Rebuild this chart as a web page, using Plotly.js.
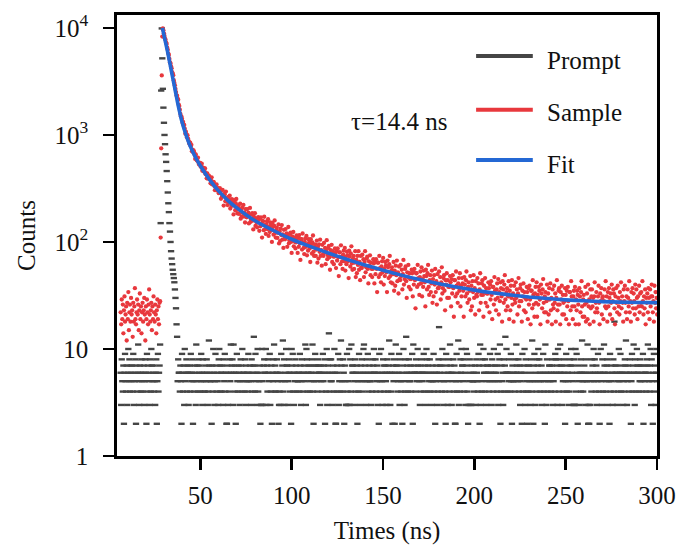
<!DOCTYPE html>
<html>
<head>
<meta charset="utf-8">
<script src="https://cdn.plot.ly/plotly-3.0.1.min.js"></script>
<style>html,body{margin:0;padding:0;background:#fff;}#chart{width:677px;height:547px;}</style>
</head>
<body>
<div id="chart"></div>
<script>
// ---- data ----
const channelStart = 6.4;   // ns, time of first channel
const channelWidth = 0.3;   // ns per channel

const promptCounts = [
6,3,8,5,4,7,2,6,9,5,4,7,3,6,10,5,8,4,7,6,
5,7,4,9,3,6,5,8,2,7,4,6,11,5,3,7,6,4,8,5,
4,6,7,3,5,8,6,2,9,4,7,5,6,3,8,4,10,7,5,6,
7,4,5,3,6,8,2,5,9,4,6,7,
11,150,2600,9900,5200,2700,1800,1300,1000,820,660,560,460,370,290,230,190,150,125,100,82,70,62,55,50,46,42,36,30,24,17,13,
5,8,6,6,4,7,5,2,9,6,4,7,3,10,5,6,8,4,7,6,
3,6,7,4,9,5,6,8,2,5,4,7,6,3,11,5,7,4,8,6,
7,4,5,9,6,3,8,5,4,6,4,7,5,8,6,3,4,12,7,5,
6,5,2,7,4,10,6,3,5,9,7,4,6,5,3,8,10,4,7,6,
4,7,6,3,8,5,9,4,6,2,2,7,3,6,4,8,5,11,6,7,
8,3,11,6,7,4,2,6,9,5,4,7,6,3,5,8,7,4,10,6,
5,6,4,8,3,7,5,6,4,9,5,6,7,5,3,8,4,6,7,13,
7,4,9,5,6,3,10,4,6,5,7,2,3,3,10,5,3,7,8,6,
6,10,3,7,4,8,6,5,9,3,4,7,2,6,5,8,11,4,7,6,
4,8,6,5,2,3,4,6,3,9,5,7,12,4,8,3,5,6,10,7,
7,3,5,6,8,4,6,2,10,7,9,4,3,6,5,8,7,4,6,5,
5,6,4,9,7,3,5,8,6,4,6,7,5,11,3,10,8,4,6,7,
6,4,7,5,6,8,11,4,2,5,7,9,6,7,5,4,8,7,6,6,
3,7,5,6,4,9,5,7,8,2,6,4,10,3,7,6,14,4,8,5,
8,5,6,3,7,4,10,6,2,2,4,7,6,9,3,5,8,4,12,7,
5,4,8,6,2,7,5,3,3,9,4,3,5,10,3,8,4,11,7,6,
7,6,3,5,8,4,6,7,2,5,4,9,6,3,7,5,8,4,6,10,
11,5,7,6,3,8,5,9,4,6,7,5,5,3,6,4,8,7,10,6,
6,8,4,5,7,3,6,2,9,5,4,10,6,5,3,8,7,4,6,7,
5,3,6,8,4,7,12,6,3,4,9,6,2,7,5,8,2,6,11,7,
7,4,5,6,9,3,8,5,4,6,2,7,10,5,3,4,8,13,6,7,
4,6,8,5,5,7,4,6,9,2,11,7,6,6,4,8,5,6,10,7,
6,5,3,7,4,8,6,5,6,9,4,6,7,3,10,8,4,7,6,5,
8,4,6,5,3,7,5,9,4,6,2,5,7,6,3,4,8,16,6,7,
5,7,4,10,8,3,5,6,4,2,9,7,5,3,6,8,4,11,7,6,
3,6,5,8,4,7,2,2,5,9,4,6,12,3,5,4,8,6,10,7,
7,5,8,4,6,3,10,7,9,4,2,3,5,8,3,6,3,7,5,5,
6,4,5,7,3,8,6,5,4,9,7,2,11,3,5,4,8,7,10,6,
4,8,6,3,5,7,7,6,4,5,9,6,7,3,8,5,4,10,6,7,
5,6,7,4,9,3,5,8,11,2,4,7,5,6,3,8,4,7,13,6,
10,6,4,6,5,8,6,4,9,5,2,7,5,6,5,4,8,6,11,7,
6,5,8,4,7,3,5,6,2,9,4,7,6,10,3,8,4,5,2,7,
4,7,5,6,3,8,4,12,5,2,7,9,5,3,6,4,8,7,10,5,
8,6,4,5,7,3,6,9,4,5,2,11,6,3,8,4,5,6,7,7,
5,4,6,7,8,3,5,6,4,9,8,6,7,3,10,8,4,6,11,7,
6,7,3,5,4,8,6,2,5,9,4,7,6,5,3,4,8,7,10,6,
7,5,3,8,3,3,10,4,9,6,2,7,5,3,6,8,4,6,12,5,
4,6,7,5,3,8,6,5,11,2,3,2,6,3,5,4,8,7,6,10,
5,8,6,4,7,3,5,9,6,4,2,6,10,5,3,8,4,6,11,7,
6,4,5,7,8,3,6,5,2,9,4,7,5,6,3,8,4,18,6,7,
7,6,3,5,4,10,5,6,9,4,6,7,6,3,5,4,8,7,12,6,
3,5,7,6,4,8,6,2,5,9,4,7,11,6,3,8,4,6,10,7,
6,7,4,5,8,7,5,6,4,9,2,7,6,5,6,4,8,7,11,6,
5,4,7,10,3,8,5,2,6,9,4,7,3,6,10,5
];

const sampleCounts = [
22,17,29,19,26,14,23,31,18,21,25,12,27,19,34,15,22,26,18,30,
21,23,13,27,18,25,37,19,17,22,29,21,26,15,23,33,19,25,14,22,
27,18,23,30,21,12,25,19,29,22,17,26,36,21,18,23,27,15,25,19,
31,22,18,26,21,14,23,29,19,25,17,27,
28,110,750,3600,8300,9900,9500,8900,
8425,7945,7750,7303,7085,6543,6248,5757,5587,5131,
4769,4659,4364,4192,3859,3737,3622,3245,3061,2908,
2695,2517,2343,2328,2190,2134,1919,1863,1721,1570,
1493,1482,1414,1300,1325,1228,1240,1146,1028,1072,
1018,950,996,925,881,834,853,845,783,808,
706,729,692,718,689,655,597,659,622,578,
598,615,553,530,549,549,505,515,538,464,
496,458,489,459,486,430,438,393,437,401,
390,417,387,395,353,376,402,345,350,364,
363,333,305,340,327,345,302,320,305,286,
296,319,303,253,303,266,306,270,219,281,
277,240,296,257,239,221,254,264,233,271,
205,238,217,251,238,220,181,246,226,198,
230,252,200,185,211,218,183,200,228,165,
202,172,210,187,222,173,188,152,203,173,
170,203,176,188,149,178,208,154,163,181,
186,158,131,172,162,186,141,166,153,137,
152,171,161,127,165,140,170,147,110,157,
156,129,172,144,132,119,146,156,132,163,
114,138,124,152,142,129,100,151,138,117,
142,159,121,110,128,136,109,122,146,97,
126,102,133,116,144,105,118,88,130,108,
106,132,111,120,90,113,138,97,104,119,
122,100,79,113,105,124,91,109,100,87,
99,115,107,79,111,90,116,97,68,106,
106,85,120,98,88,77,100,108,90,114,
75,95,83,106,99,87,65,106,95,78,
99,115,81,74,90,95,74,85,103,64,
90,70,95,81,105,74,84,60,94,76,
74,98,79,88,62,83,104,69,75,88,
92,72,55,84,77,94,65,82,73,62,
73,87,79,57,83,67,87,72,48,80,
80,62,93,73,66,56,76,83,66,88,
54,73,62,81,75,66,46,83,73,59,
78,91,63,55,70,74,56,64,82,47,
68,51,74,61,82,55,65,44,74,58,
57,76,61,69,47,65,82,52,58,70,
73,56,41,66,60,75,49,64,56,47,
56,69,63,41,65,50,69,56,34,64,
64,47,74,57,50,42,59,66,52,71,
40,56,48,65,60,52,34,67,58,46,
62,74,48,42,54,58,41,50,65,35,
54,39,60,49,67,43,52,33,59,45,
44,61,48,55,36,50,68,40,45,56,
59,43,30,52,47,61,38,51,45,36,
45,55,51,31,53,40,56,44,24,51,
51,38,61,46,40,32,47,53,41,58,
31,45,38,54,48,42,25,55,48,36,
51,61,38,32,44,49,34,41,54,27,
45,31,49,40,56,34,43,26,50,37,
37,53,39,47,29,42,58,33,37,46,
49,35,23,44,40,51,30,44,38,30,
38,48,42,25,45,33,49,37,20,44,
44,31,53,39,33,27,41,46,35,51,
25,39,31,46,41,35,20,47,40,31,
44,53,33,27,38,42,29,35,48,23,
39,25,43,34,49,30,37,21,43,32,
31,46,34,41,23,36,51,27,32,41,
44,32,20,39,34,46,27,37,33,25,
33,42,37,22,40,29,43,32,19,38,
38,26,47,35,29,23,36,41,30,45,
21,34,28,42,37,31,18,43,36,27,
40,49,29,23,34,37,25,31,43,19,
35,23,39,30,44,26,33,18,39,29,
27,42,30,36,21,33,46,25,28,37,
40,28,18,35,31,41,23,34,30,22,
29,38,34,19,37,26,39,29,17,35,
35,24,44,32,26,20,33,38,27,42,
20,32,26,38,35,29,17,40,33,24,
36,45,27,22,31,34,22,28,40,18,
33,21,37,29,41,23,30,17,36,26,
24,39,27,33,18,30,44,23,26,35,
37,26,17,34,29,39,21,32,27,21,
28,37,32,19,35,25,38,28,17,34,
34,23,43,31,25,19,31,35,25,38,
17,29,23,35,32,26,17,37,31,22,
34,43,25,20,29,32,20,26,38,18,
27,33,19,40,25,29,17,36,24,31,
36,25,30,18,31,42,22,27,34,24,
22,31,39,27,17,33,28,37,21,30,
31,19,28,36,25,43,24,31,18,34,
25,37,30,21,33,27,40,19,28,36,
33,24,17,31,37,27,22,39,30,25,
21,34,28,42,24,31,27,18,36,28,
39,27,22,31,19,36,30,25,43,22,
28,18,34,27,37,24,33,28,21,40,
24,36,30,19,31,25,39,22,33,27,
34,25,43,28,21,31,24,36,17,30,
27,33,22,37,30,19,36,25,31,40,
31,22,28,18,39,27,34,24,30,21
];

const fitTimes = [29.3,30,31,32,33,34,35,36,37,38,39,40,42,44,46,48,50,53,56,60,65,70,75,80,90,100,110,120,130,140,150,160,170,180,190,200,210,220,230,240,250,260,270,280,290,300];
const fitCounts = [10000,8700,7300,6100,5000,4100,3350,2750,2250,1850,1550,1320,1020,820,690,590,515,430,365,300,245,208,180,158,128,106,91,79,69,61,54.5,49,44.5,41,38,35.5,33.5,32,30.6,29.6,28.8,28.2,27.7,27.4,27.2,27.1];

const xTickVals = [50,100,150,200,250,300];
const yTickVals = [1,10,100,1000,10000];
const yTickText = ['1','10','10<sup>2</sup>','10<sup>3</sup>','10<sup>4</sup>'];
const seriesNames = ['Prompt','Sample','Fit'];
const lifetimeLabel = '\u03c4=14.4 ns';

// ---- styles ----
const FONT = 'Liberation Serif, Times New Roman, serif';
const colors = {Prompt:'#454545', Sample:'#e8383d', Fit:'#2468d4'};

const traces = [
  {type:'scatter', mode:'markers', name:seriesNames[0], x0:channelStart, dx:channelWidth, y:promptCounts,
   marker:{symbol:'line-ew', size:4.5, line:{width:2.4, color:colors.Prompt}}, showlegend:false},
  {type:'scatter', mode:'markers', name:seriesNames[1], x0:channelStart, dx:channelWidth, y:sampleCounts,
   marker:{symbol:'circle', size:4.3, color:colors.Sample, line:{width:0}}, showlegend:false},
  {type:'scatter', mode:'lines', name:seriesNames[2], x:fitTimes, y:fitCounts,
   line:{color:colors.Fit, width:3.6, shape:'spline', smoothing:0.6}, showlegend:false}
];

// manual legend (lines + labels) in paper coordinates
const legLineY = [0.907, 0.785, 0.671];
const legTextY = [0.896, 0.780, 0.662];
const shapes = seriesNames.map((n,i)=>({type:'line', xref:'paper', yref:'paper',
  x0:0.665, x1:0.770, y0:legLineY[i], y1:legLineY[i], line:{color:colors[n], width:4}}));
const annotations = seriesNames.map((n,i)=>({xref:'paper', yref:'paper', x:0.793, y:legTextY[i],
  xanchor:'left', yanchor:'middle', text:n, showarrow:false, font:{family:FONT, size:25, color:'#111'}}));
annotations.push({xref:'paper', yref:'paper', x:0.522, y:0.758, xanchor:'center', yanchor:'middle',
  text:lifetimeLabel, showarrow:false, font:{family:FONT, size:25, color:'#111'}});

const axisCommon = {showline:true, linewidth:2.8, linecolor:'#000', mirror:true, showgrid:false, zeroline:false,
  ticks:'outside', ticklen:11, tickwidth:2.5, tickcolor:'#000', tickfont:{family:FONT, size:25, color:'#111'}};

const layout = {
  width:677, height:547,
  margin:{l:117, r:20, t:15, b:91},
  paper_bgcolor:'#fff', plot_bgcolor:'#fff',
  showlegend:false,
  xaxis:Object.assign({}, axisCommon, {range:[4.4,300], tickmode:'array', tickvals:xTickVals,
     ticklabelstandoff:4,
     title:{text:'Times (ns)', font:{family:FONT, size:25, color:'#111'}, standoff:14}}),
  yaxis:Object.assign({}, axisCommon, {type:'log', range:[0,4.121], tickmode:'array', tickvals:yTickVals, ticktext:yTickText,
     ticklabelstandoff:10,
     title:{text:'Counts', font:{family:FONT, size:25, color:'#111'}, standoff:12}}),
  shapes:shapes, annotations:annotations
};

Plotly.newPlot('chart', traces, layout, {staticPlot:true, displayModeBar:false});
</script>
</body>
</html>
